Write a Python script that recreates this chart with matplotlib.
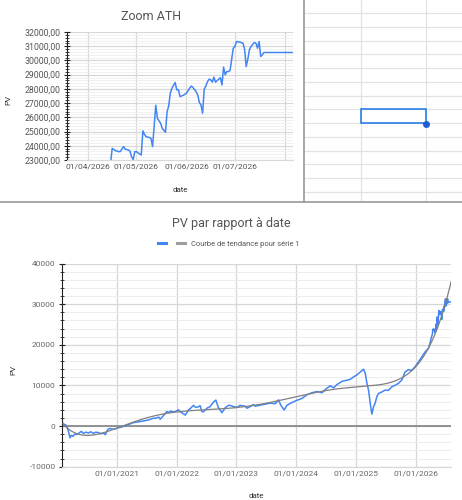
import matplotlib
matplotlib.use("Agg")

import numpy as np
import pandas as pd
import matplotlib.pyplot as plt
import matplotlib.dates as mdates
from matplotlib.ticker import MultipleLocator, FuncFormatter
from matplotlib.lines import Line2D
from matplotlib.patches import Rectangle

plt.rcParams['font.family'] = ['Roboto', 'DejaVu Sans']

# PV over time
dates = [
    '2020-02-05', '2020-02-15', '2020-02-25', '2020-03-05', '2020-03-12', '2020-03-20',
    '2020-03-28', '2020-04-08', '2020-04-20', '2020-05-01', '2020-05-15', '2020-05-28',
    '2020-06-10', '2020-06-25', '2020-07-10', '2020-07-25', '2020-08-10', '2020-08-25',
    '2020-09-10', '2020-09-25', '2020-10-10', '2020-10-22', '2020-11-05', '2020-11-15',
    '2020-12-01', '2020-12-15', '2021-01-01', '2021-02-01', '2021-03-03', '2021-03-13',
    '2021-04-12', '2021-05-13', '2021-06-12', '2021-07-04', '2021-07-13', '2021-08-13',
    '2021-08-23', '2021-09-13', '2021-09-23', '2021-10-13', '2021-11-03', '2021-11-13',
    '2021-11-23', '2021-12-13', '2021-12-23', '2022-01-13', '2022-01-23', '2022-02-13',
    '2022-02-23', '2022-03-15', '2022-03-25', '2022-04-14', '2022-04-24', '2022-05-05',
    '2022-05-25', '2022-06-04', '2022-06-14', '2022-07-05', '2022-07-25', '2022-08-14',
    '2022-08-29', '2022-09-14', '2022-10-05', '2022-10-25', '2022-11-14', '2022-11-24',
    '2022-12-15', '2023-01-04', '2023-01-25', '2023-02-24', '2023-03-07', '2023-03-27',
    '2023-04-16', '2023-04-26', '2023-05-27', '2023-06-27', '2023-07-27', '2023-08-27',
    '2023-09-16', '2023-10-01', '2023-10-21', '2023-11-06', '2023-12-07', '2024-01-07',
    '2024-02-06', '2024-03-08', '2024-04-07', '2024-05-08', '2024-06-08', '2024-06-28',
    '2024-07-28', '2024-08-18', '2024-09-07', '2024-10-08', '2024-11-08', '2024-11-28',
    '2024-12-18', '2025-01-08', '2025-01-28', '2025-02-17', '2025-02-28', '2025-03-10',
    '2025-03-20', '2025-03-30', '2025-04-09', '2025-04-19', '2025-04-29', '2025-05-09',
    '2025-05-19', '2025-06-09', '2025-06-29', '2025-07-19', '2025-08-09', '2025-08-29',
    '2025-09-18', '2025-10-09', '2025-10-29', '2025-11-19', '2025-12-09', '2025-12-29',
    '2026-01-19', '2026-02-08', '2026-03-01', '2026-03-21', '2026-03-31', '2026-04-08',
    '2026-04-15', '2026-04-16', '2026-04-18', '2026-04-20', '2026-04-21', '2026-04-23',
    '2026-04-24', '2026-04-26', '2026-04-27', '2026-04-28', '2026-04-29', '2026-04-30',
    '2026-05-01', '2026-05-03', '2026-05-04', '2026-05-05', '2026-05-06', '2026-05-07',
    '2026-05-09', '2026-05-10', '2026-05-11', '2026-05-13', '2026-05-14', '2026-05-16',
    '2026-05-17', '2026-05-19', '2026-05-20', '2026-05-21', '2026-05-22', '2026-05-23',
    '2026-05-25', '2026-05-26', '2026-05-27', '2026-05-28', '2026-05-30', '2026-05-31',
    '2026-06-01', '2026-06-03', '2026-06-04', '2026-06-05', '2026-06-07', '2026-06-08',
    '2026-06-09', '2026-06-10', '2026-06-11', '2026-06-12', '2026-06-13', '2026-06-14',
    '2026-06-15', '2026-06-16', '2026-06-17', '2026-06-18', '2026-06-19', '2026-06-20',
    '2026-06-21', '2026-06-22', '2026-06-23', '2026-06-24', '2026-06-25', '2026-06-26',
    '2026-06-27', '2026-06-28', '2026-06-30', '2026-07-01', '2026-07-02', '2026-07-04',
    '2026-07-06', '2026-07-07', '2026-07-08', '2026-07-09', '2026-07-10', '2026-07-11',
    '2026-07-13', '2026-07-14', '2026-07-15', '2026-07-16', '2026-07-17', '2026-07-18',
    '2026-07-19', '2026-08-06',
]
pv = [
    700, 400, 200, -600, -1500, -2900,
    -2300, -2500, -1900, -2100, -1700, -1300,
    -1800, -1500, -1700, -1400, -1800, -1500,
    -1600, -1900, -1700, -2100, -900, -600,
    -700, -800, -500, -200, 250, 400,
    850, 1050, 1250, 1450, 1500, 1950,
    1900, 2200, 1700, 2600, 3600, 3300,
    3700, 3500, 3550, 4000, 3500, 3000,
    2700, 4000, 4300, 5100, 4700, 4600,
    5000, 3600, 3500, 4400, 4800, 5900,
    6400, 4500, 3300, 4500, 5100, 5100,
    4800, 4600, 5100, 4900, 4400, 4800,
    5300, 4900, 5150, 5400, 5650, 5500,
    6450, 5100, 3950, 5100, 5800, 6350,
    6800, 7700, 8200, 8500, 8200, 9000,
    9900, 9400, 10200, 11000, 11300, 11500,
    12100, 12600, 13300, 14000, 12900, 10500,
    8800, 5600, 2950, 4700, 5600, 7200,
    8000, 8400, 8850, 8800, 9650, 10050,
    10500, 11300, 13300, 13900, 13700, 14600,
    15800, 17000, 18300, 19100, 20500, 21800,
    22800, 23820, 23660, 23590, 23590, 23940,
    23770, 23700, 23630, 23230, 23030, 23590,
    23590, 23420, 23350, 25050, 24800, 24640,
    24580, 24530, 23940, 26850, 25930, 25580,
    25230, 24950, 26400, 26800, 27700, 28050,
    28450, 27930, 27950, 27460, 27550, 27620,
    27700, 28050, 28200, 28100, 27800, 27580,
    27040, 26870, 26290, 27980, 28200, 28500,
    28680, 28640, 28470, 28820, 28470, 28580,
    28700, 28790, 28280, 29530, 28990, 29220,
    29220, 29290, 30860, 30980, 31330, 31290,
    31220, 30800, 29570, 30090, 30750, 30980,
    31260, 31220, 30860, 31330, 30280, 30390,
    30560, 30560,
]
trend_degree = 6

d = pd.to_datetime(dates)
pv = np.array(pv, dtype=float)

# polynomial trend line ("Courbe de tendance") fitted on a daily grid
t0 = d[0]
days = np.asarray((d - t0).days, dtype=float)
grid = np.arange(days[0], days[-1] + 1)
coef = np.polyfit(grid / 365.25, np.interp(grid, days, pv), trend_degree)
trend = np.polyval(coef, grid / 365.25)
trend_dates = t0 + pd.to_timedelta(grid, unit='D')

BLUE = '#4285f4'
W, H = 462.0, 500.0


def px(x0, y0, x1, y1):
    # pixel box (top-left origin) -> figure fraction rect
    return [x0 / W, 1 - y1 / H, (x1 - x0) / W, (y1 - y0) / H]


fig = plt.figure(figsize=(4.62, 5.0), dpi=100)

# ---- spreadsheet cells at top right
ax_s = fig.add_axes(px(303, 0, 462, 202))
ax_s.set_xlim(303, 462)
ax_s.set_ylim(202, 0)
ax_s.axis('off')
for y in [12.7, 26.5, 40.5, 54.3, 68, 81.7, 95.6, 109.4, 123.1, 136.8,
          150.6, 164.3, 178.1, 191.8]:
    ax_s.axhline(y, color='#e3e3e3', lw=0.9, zorder=1)
for x in [361, 425.5]:
    ax_s.axvline(x, color='#e3e3e3', lw=0.9, zorder=1)
ax_s.add_patch(Rectangle((361, 109.4), 64.5, 13.9, fill=False,
                         edgecolor='#1a73e8', lw=1.1, zorder=3))
ax_s.plot([425.5], [123.6], 'o', color='#1a5fd6', ms=4.0, zorder=4)

# panel borders
fig.add_artist(Line2D([303.5 / W] * 2, [1, 1 - 202 / H], color='#a0a0a0', lw=1.3))
fig.add_artist(Line2D([0, 1], [1 - 202 / H] * 2, color='#a0a0a0', lw=1.3))

# ---- Zoom ATH chart
ax1 = fig.add_axes(px(67, 32, 293, 160))
ax1.plot(d, pv, color=BLUE, lw=1.1)
ax1.set_xlim(pd.Timestamp('2026-03-19'), pd.Timestamp('2026-08-06'))
ax1.set_ylim(23000, 32000)
ax1.yaxis.set_major_locator(MultipleLocator(1000))
ax1.yaxis.set_minor_locator(MultipleLocator(200))
ax1.yaxis.set_major_formatter(FuncFormatter(lambda v, p: ('%.2f' % v).replace('.', ',')))
month_ticks = pd.to_datetime(['2026-04-01', '2026-05-01', '2026-06-01', '2026-07-01', '2026-08-01'])
ax1.set_xticks(month_ticks)
ax1.set_xticklabels([m.strftime('%d/%m/%Y') for m in month_ticks[:-1]] + [''])
ax1.grid(which='major', color='#d8d8d8', lw=0.9)
ax1.grid(which='minor', axis='y', color='#eeeeee', lw=0.6)
ax1.set_axisbelow(True)
for s in ['top', 'right']:
    ax1.spines[s].set_visible(False)
ax1.spines['bottom'].set_color('#d8d8d8')
ax1.spines['left'].set_color('#222222')
ax1.spines['left'].set_linewidth(0.8)
ax1.tick_params(axis='y', which='major', direction='inout', length=5, width=0.8,
                color='#222222', labelsize=6.3, labelcolor='#555555', pad=2.0)
ax1.tick_params(axis='y', which='minor', direction='inout', length=3, width=0.6, color='#222222')
ax1.tick_params(axis='x', length=0, labelsize=6.0, labelcolor='#555555', pad=2.5)
ax1.set_xlabel('date', fontsize=5.8, color='#333333')
ax1.set_ylabel('PV', fontsize=5.8, color='#333333')
ax1.xaxis.set_label_coords(0.5, -0.211)
ax1.yaxis.set_label_coords(-0.245, 0.47)
fig.text(151 / W, 1 - 16 / H, 'Zoom ATH', ha='center', va='center',
         fontsize=9, color='#555555')

# ---- PV par rapport à date
ax2 = fig.add_axes(px(62, 263.6, 451, 466.7))
ax2.axhline(0, color='#8a8a8a', lw=1.3, zorder=1.5)
ax2.plot(d, pv, color=BLUE, lw=1.1, zorder=2)
ax2.plot(trend_dates, trend, color='#808080', lw=0.9, zorder=3)
ax2.set_xlim(pd.Timestamp('2020-01-31'), pd.Timestamp('2026-08-06'))
ax2.set_ylim(-10000, 40000)
ax2.yaxis.set_major_locator(MultipleLocator(10000))
ax2.yaxis.set_minor_locator(MultipleLocator(2000))
ax2.yaxis.set_major_formatter(FuncFormatter(lambda v, p: '%d' % v))
ax2.xaxis.set_major_locator(mdates.YearLocator())
ax2.xaxis.set_major_formatter(mdates.DateFormatter('%d/%m/%Y'))
ax2.grid(which='major', color='#d6d6d6', lw=0.9)
ax2.grid(which='minor', axis='y', color='#ededed', lw=0.7)
ax2.set_axisbelow(True)
for s in ['top', 'right']:
    ax2.spines[s].set_visible(False)
ax2.spines['bottom'].set_color('#d6d6d6')
ax2.spines['left'].set_color('#222222')
ax2.spines['left'].set_linewidth(0.8)
ax2.tick_params(axis='y', which='major', direction='inout', length=5, width=0.8,
                color='#222222', labelsize=6.0, labelcolor='#666666', pad=2.2)
ax2.tick_params(axis='y', which='minor', direction='inout', length=3, width=0.6, color='#222222')
ax2.tick_params(axis='x', length=0, labelsize=6.0, labelcolor='#666666', pad=3)
ax2.set_xlabel('date', fontsize=5.8, color='#333333')
ax2.set_ylabel('PV', fontsize=5.8, color='#333333')
ax2.xaxis.set_label_coords(0.5, -0.129)
ax2.yaxis.set_label_coords(-0.118, 0.476)
fig.text(0.5, 1 - 224 / H, 'PV par rapport à date', ha='center', va='center',
         fontsize=9, color='#555555')

handles = [Line2D([], [], color=BLUE, lw=2.2), Line2D([], [], color='#9e9e9e', lw=2.2)]
fig.legend(handles, ['', 'Courbe de tendance pour série 1'], ncol=2, loc='center',
           bbox_to_anchor=(0.495, 1 - 244 / H), frameon=False, fontsize=5.4,
           handlelength=1.0, handletextpad=0.8, columnspacing=0.7, labelcolor='#555555')

fig.savefig('out.png', dpi=100)
